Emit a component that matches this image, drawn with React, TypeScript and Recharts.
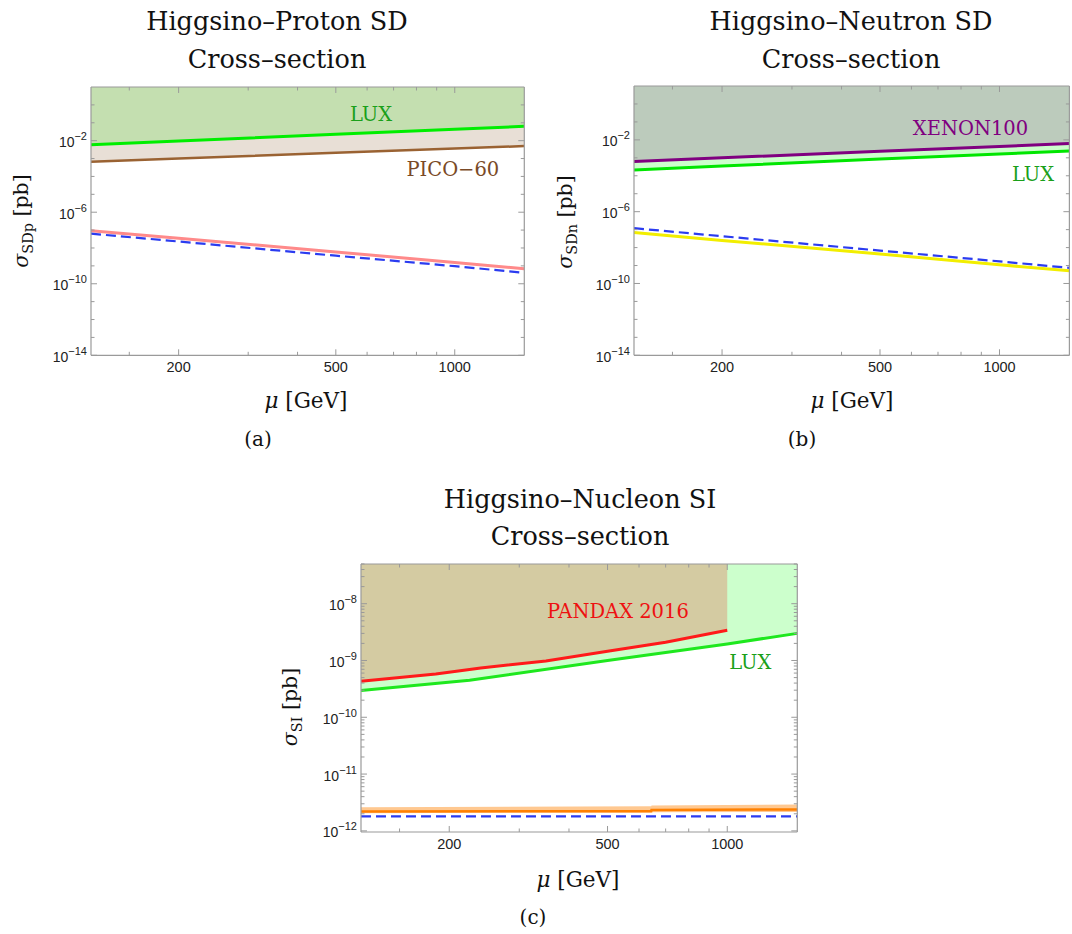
import React from 'react'
import { ComposedChart, Area, Line, XAxis, YAxis, ReferenceDot } from 'recharts'

// (a) Higgsino-proton SD, pb
const MU_A = [120, 200, 500, 1000, 1500]
const LUX_A = [6.0e-3, 9.6e-3, 2.3e-2, 4.3e-2, 6.3e-2]
const PICO_A = [6.6e-4, 1.0e-3, 2.1e-3, 3.6e-3, 5.0e-3]
const HIGGSINO_A = [9.3e-8, 3.5e-8, 6.0e-9, 1.55e-9, 6.8e-10]
const DASHED_A = [6.3e-8, 2.3e-8, 3.7e-9, 9.6e-10, 4.1e-10]

// (b) Higgsino-neutron SD, pb
const MU_B = [120, 200, 500, 1000, 1500]
const XENON_B = [6.2e-4, 1.0e-3, 2.3e-3, 4.3e-3, 6.2e-3]
const LUX_B = [2.1e-4, 3.5e-4, 8.5e-4, 1.65e-3, 2.4e-3]
const HIGGSINO_B = [7.0e-8, 2.5e-8, 4.4e-9, 1.1e-9, 5.1e-10]
const DASHED_B = [1.2e-7, 4.3e-8, 6.8e-9, 1.7e-9, 7.4e-10]

// (c) Higgsino-nucleon SI, pb
const MU_PANDAX = [120, 185, 240, 350, 500, 700, 1000]
const PANDAX_C = [4.3e-10, 5.8e-10, 7.4e-10, 9.8e-10, 1.45e-9, 2.1e-9, 3.4e-9]
const MU_LUX_C = [120, 225, 500, 1000, 1500]
const LUX_C = [2.95e-10, 4.5e-10, 1.0e-9, 1.96e-9, 3.0e-9]
const MU_ORANGE = [120, 644, 645, 1500]
const ORANGE_C = [2.2e-12, 2.22e-12, 2.33e-12, 2.38e-12]
const ORANGE_LO = [2.05e-12, 2.1e-12, 2.12e-12, 2.15e-12]
const ORANGE_HI = [2.6e-12, 2.7e-12, 2.8e-12, 2.9e-12]
const MU_DASHED_C = [120, 1500]
const DASHED_C = [1.8e-12, 1.8e-12]

// axes
const X_DOMAIN = [120, 1500]
const X_MAJOR = [200, 500, 1000]
const X_TICKS = [150, 200, 300, 400, 500, 600, 700, 800, 900, 1000]
const Y_TOP_AB = 10
const Y_DOMAIN_AB = [1e-14, Y_TOP_AB]
const Y_MAJOR_AB = [1e-14, 1e-10, 1e-6, 1e-2]
const Y_TICKS_AB = [-14, -13, -12, -11, -10, -9, -8, -7, -6, -5, -4, -3, -2, -1, 0].map(n => Number(`1e${n}`))
const Y_TOP_C = 5e-8
const Y_DOMAIN_C = [9.55e-13, Y_TOP_C]
const Y_MAJOR_C = [1e-12, 1e-11, 1e-10, 1e-9, 1e-8]
const Y_TICKS_C = [-12, -11, -10, -9, -8].flatMap(n =>
  [1, 2, 3, 4, 5, 6, 7, 8, 9].map(k => Number(`${k}e${n}`))
).filter(v => v >= Y_DOMAIN_C[0] && v <= Y_TOP_C)

const SERIF = '"DejaVu Serif", serif'
const SANS = '"Liberation Sans", Arial, sans-serif'
const FRAME = '#9a9a9a'
const YW = 60
const TH = 6
const RW = 2
const BH = 30

const pts = (mu: number[], v: number[]) => mu.map((m, i) => ({ mu: m, v: v[i] }))
const band = (mu: number[], lo: number[], hi: number[]) => mu.map((m, i) => ({ mu: m, band: [lo[i], hi[i]] }))
const toTop = (mu: number[], lo: number[], top: number) => mu.map((m, i) => ({ mu: m, band: [lo[i], top] }))

function FrameTick(props: any) {
  const { x, y, payload, side, majors, labels } = props
  const v = payload.value
  const major = majors.includes(v)
  const len = major ? 6 : 3.5
  if (side === 'left') {
    const e = Math.round(Math.log10(v))
    return (
      <g>
        <line x1={x} y1={y} x2={x + len} y2={y} stroke={FRAME} />
        {major && labels && (
          <text x={x - 4} y={y + 6.5} textAnchor="end" fontFamily={SANS} fontSize={14} fill="#222">
            10<tspan dy={-7} fontSize={11}>{e < 0 ? '\u2212' + Math.abs(e) : e}</tspan>
          </text>
        )}
      </g>
    )
  }
  if (side === 'right') return <line x1={x} y1={y} x2={x - len} y2={y} stroke={FRAME} />
  if (side === 'top') return <line x1={x} y1={y} x2={x} y2={y + len} stroke={FRAME} />
  return (
    <g>
      <line x1={x} y1={y} x2={x} y2={y - len} stroke={FRAME} />
      {major && (
        <text x={x} y={y + 17} textAnchor="middle" fontFamily={SANS} fontSize={14.5} fill="#222">{v}</text>
      )}
    </g>
  )
}

function PlotLabel(props: any) {
  const { viewBox, text, color } = props
  const cx = viewBox.x + viewBox.width / 2
  const cy = viewBox.y + viewBox.height / 2
  return (
    <text x={cx} y={cy} textAnchor="middle" dominantBaseline="central" fontFamily={SERIF} fontSize={19.5} fill={color}>{text}</text>
  )
}

type Box = { x0: number; y0: number; x1: number; y1: number }

function Panel({ box, yDomain, yTicks, yMajors, children }: any) {
  const b = box as Box
  const w = b.x1 - b.x0
  const h = b.y1 - b.y0
  return (
    <div style={{ position: 'absolute', left: b.x0 - YW, top: b.y0 - TH }}>
      <ComposedChart width={YW + w + RW} height={TH + h + BH} margin={{ top: 0, right: 0, bottom: 0, left: 0 }}>
        <XAxis xAxisId="b" dataKey="mu" type="number" scale="log" domain={X_DOMAIN} allowDataOverflow
          ticks={X_TICKS} interval={0} tickSize={0} tickMargin={0} height={BH} tickLine={false}
          axisLine={{ stroke: FRAME, strokeWidth: 1.2 }}
          tick={(p: any) => <FrameTick {...p} side="bottom" majors={X_MAJOR} />} />
        <XAxis xAxisId="t" orientation="top" dataKey="mu" type="number" scale="log" domain={X_DOMAIN} allowDataOverflow
          ticks={X_TICKS} interval={0} tickSize={0} tickMargin={0} height={TH} tickLine={false}
          axisLine={{ stroke: FRAME, strokeWidth: 1.2 }}
          tick={(p: any) => <FrameTick {...p} side="top" majors={X_MAJOR} />} />
        <YAxis yAxisId="l" type="number" scale="log" domain={yDomain} allowDataOverflow
          ticks={yTicks} interval={0} tickSize={0} tickMargin={0} width={YW} tickLine={false}
          axisLine={{ stroke: FRAME, strokeWidth: 1.2 }}
          tick={(p: any) => <FrameTick {...p} side="left" majors={yMajors} labels />} />
        <YAxis yAxisId="r" orientation="right" type="number" scale="log" domain={yDomain} allowDataOverflow
          ticks={yTicks} interval={0} tickSize={0} tickMargin={0} width={RW} tickLine={false}
          axisLine={{ stroke: FRAME, strokeWidth: 1.2 }}
          tick={(p: any) => <FrameTick {...p} side="right" majors={yMajors} />} />
        {children}
      </ComposedChart>
    </div>
  )
}

const fill = (data: any[], color: string, key: string) => (
  <Area key={key} xAxisId="b" yAxisId="l" data={data} dataKey="band" type="linear" stroke="none"
    fill={color} fillOpacity={1} dot={false} activeDot={false} isAnimationActive={false} />
)
const curve = (data: any[], color: string, key: string, width = 3, dash?: string) => (
  <Line key={key} xAxisId="b" yAxisId="l" data={data} dataKey="v" type="linear" stroke={color}
    strokeWidth={width} strokeDasharray={dash} dot={false} activeDot={false} isAnimationActive={false} />
)
const tag = (mu: number, y: number, text: string, color: string) => (
  <ReferenceDot key={text + mu} xAxisId="b" yAxisId="l" x={mu} y={y} r={1} fill="none" stroke="none"
    label={<PlotLabel text={text} color={color} />} />
)

function Txt({ x, y, size, children, rotate }: any) {
  return (
    <div style={{
      position: 'absolute', left: x, top: y, whiteSpace: 'nowrap', fontFamily: SERIF, fontSize: size,
      color: '#111', lineHeight: 1, transform: `translate(-50%, -50%)${rotate ? ' rotate(-90deg)' : ''}`,
    }}>{children}</div>
  )
}

const sub = { fontSize: '0.7em', verticalAlign: '-0.35em' }

export default function App() {
  return (
    <div style={{ position: 'absolute', left: 0, top: 0, width: 1072, height: 934, overflow: 'hidden', background: '#fff' }}>
      <Txt x={277} y={22} size={25.5}>Higgsino–Proton SD</Txt>
      <Txt x={277} y={60} size={25.5}>Cross–section</Txt>
      <Txt x={851} y={22} size={25.5}>Higgsino–Neutron SD</Txt>
      <Txt x={851} y={60} size={25.5}>Cross–section</Txt>
      <Txt x={580} y={500} size={25.5}>Higgsino–Nucleon SI</Txt>
      <Txt x={580} y={537} size={25.5}>Cross–section</Txt>

      <Panel box={{ x0: 91, y0: 86.7, x1: 524.3, y1: 355 }} yDomain={Y_DOMAIN_AB} yTicks={Y_TICKS_AB} yMajors={Y_MAJOR_AB}>
        {fill(toTop(MU_A, LUX_A, Y_TOP_AB), '#c4dfb0', 'fa1')}
        {fill(band(MU_A, PICO_A, LUX_A), '#e8dfd6', 'fa2')}
        {curve(pts(MU_A, PICO_A), '#9a6232', 'pico', 2.5)}
        {curve(pts(MU_A, LUX_A), '#00ee00', 'luxa')}
        {curve(pts(MU_A, HIGGSINO_A), '#ff8a8a', 'ha')}
        {curve(pts(MU_A, DASHED_A), '#2b3cf0', 'da', 2.2, '10 5')}
        {tag(614, 0.3, 'LUX', '#1aa01a')}
        {tag(989, 2.4e-4, 'PICO\u221260', '#7a4a26')}
      </Panel>

      <Panel box={{ x0: 634.3, y0: 86, x1: 1069.7, y1: 355.3 }} yDomain={Y_DOMAIN_AB} yTicks={Y_TICKS_AB} yMajors={Y_MAJOR_AB}>
        {fill(toTop(MU_B, XENON_B, Y_TOP_AB), '#bccbbc', 'fb1')}
        {fill(band(MU_B, LUX_B, XENON_B), '#ccffcc', 'fb2')}
        {curve(pts(MU_B, LUX_B), '#00e600', 'luxb')}
        {curve(pts(MU_B, XENON_B), '#800080', 'xen')}
        {curve(pts(MU_B, HIGGSINO_B), '#f2ee00', 'hb')}
        {curve(pts(MU_B, DASHED_B), '#2b3cf0', 'db', 2.2, '10 5')}
        {tag(845, 0.045, 'XENON100', '#800080')}
        {tag(1215, 1.23e-4, 'LUX', '#1aa01a')}
      </Panel>

      <Panel box={{ x0: 361, y0: 564.3, x1: 797.3, y1: 832.3 }} yDomain={Y_DOMAIN_C} yTicks={Y_TICKS_C} yMajors={Y_MAJOR_C}>
        {fill(toTop(MU_LUX_C, LUX_C, Y_TOP_C), '#ccffcc', 'fc1')}
        {fill(toTop(MU_PANDAX, PANDAX_C, Y_TOP_C), '#d4cba2', 'fc2')}
        {fill(band(MU_ORANGE, ORANGE_LO, ORANGE_HI), '#ffc890', 'fc3')}
        {curve(pts(MU_LUX_C, LUX_C), '#1ee81e', 'luxc')}
        {curve(pts(MU_PANDAX, PANDAX_C), '#ff1a1a', 'pandax')}
        {curve(pts(MU_ORANGE, ORANGE_C), '#ff8000', 'orange', 2.5)}
        {curve(pts(MU_DASHED_C, DASHED_C), '#2b3cf0', 'dc', 2.2, '10 5')}
        {tag(531, 7.2e-9, 'PANDAX 2016', '#ee1111')}
        {tag(1143, 9.3e-10, 'LUX', '#1aa01a')}
      </Panel>

      <Txt x={23} y={221} size={20.5} rotate><i>σ</i><span style={sub}>SDp</span> [pb]</Txt>
      <Txt x={567} y={222} size={20.5} rotate><i>σ</i><span style={sub}>SDn</span> [pb]</Txt>
      <Txt x={292} y={707} size={20.5} rotate><i>σ</i><span style={sub}>SI</span> [pb]</Txt>

      <Txt x={306} y={401} size={21.5}><i>μ</i> [GeV]</Txt>
      <Txt x={852} y={401} size={21.5}><i>μ</i> [GeV]</Txt>
      <Txt x={578} y={880} size={21.5}><i>μ</i> [GeV]</Txt>

      <Txt x={258} y={439} size={20}>(a)</Txt>
      <Txt x={802} y={439} size={20}>(b)</Txt>
      <Txt x={533} y={917} size={20}>(c)</Txt>
    </div>
  )
}
